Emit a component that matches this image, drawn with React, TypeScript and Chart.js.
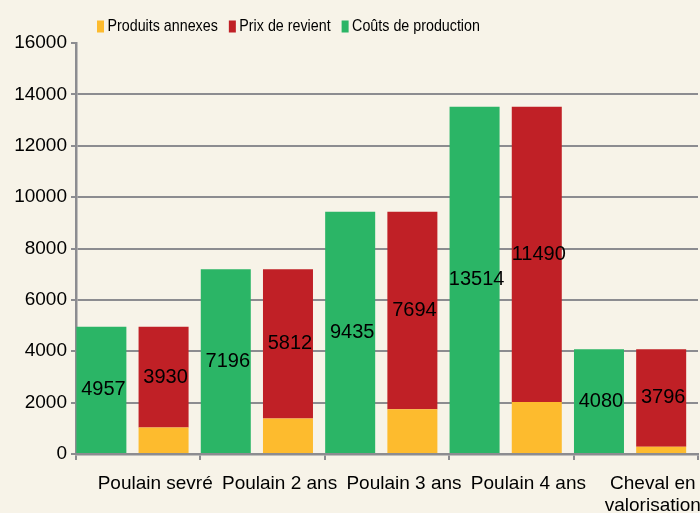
import React, { useEffect, useRef } from 'react';
import { Chart, registerables } from 'chart.js';

Chart.register(...registerables);

const categories: (string | string[])[] = [
  'Poulain sevré',
  'Poulain 2 ans',
  'Poulain 3 ans',
  'Poulain 4 ans',
  ['Cheval en', 'valorisation'],
];
const produitsAnnexes = [1027, 1384, 1741, 2024, 284];
const prixDeRevient = [3930, 5812, 7694, 11490, 3796];
const coutsProduction = [4957, 7196, 9435, 13514, 4080];
const yMin = 0;
const yMax = 16000;
const yStep = 2000;

const BG = '#f7f3e8';
const GRID = '#8c8c90';
const NUM_FONT = '"Liberation Sans", Arial, sans-serif';

const toXY = (arr: number[]) => arr.map((v, i) => ({ x: i, y: v }));

const backgroundPlugin = {
  id: 'bg',
  beforeDraw(chart: any) {
    const { ctx, width, height } = chart;
    ctx.save();
    ctx.fillStyle = BG;
    ctx.fillRect(0, 0, width, height);
    ctx.restore();
  },
};

const valueLabelPlugin = {
  id: 'valueLabels',
  afterDatasetsDraw(chart: any) {
    const { ctx } = chart;
    ctx.save();
    ctx.font = `20px ${NUM_FONT}`;
    ctx.fillStyle = '#000000';
    ctx.textAlign = 'center';
    ctx.textBaseline = 'middle';
    chart.data.datasets.forEach((ds: any, di: number) => {
      if (!ds.showValues) return;
      const meta = chart.getDatasetMeta(di);
      meta.data.forEach((el: any, i: number) => {
        const v = ds.data[i].y;
        ctx.fillText(String(v), el.x + 2, (el.y + el.base) / 2);
      });
    });
    ctx.restore();
  },
};

// legend drawn with slightly condensed text (no narrow face installed)
const LEG_SCALE = 0.84;
const legendPlugin = {
  id: 'customLegend',
  afterDraw(chart: any) {
    const { ctx } = chart;
    ctx.save();
    ctx.font = `17px ${NUM_FONT}`;
    ctx.textBaseline = 'middle';
    ctx.textAlign = 'left';
    let x = 97;
    const items = chart.data.datasets
      .slice()
      .sort((a: any, b: any) => a.legendOrder - b.legendOrder);
    items.forEach((ds: any) => {
      ctx.fillStyle = ds.backgroundColor;
      ctx.fillRect(x, 20.5, 7, 12);
      x += 10.5;
      ctx.fillStyle = '#000000';
      ctx.save();
      ctx.translate(x, 26.5);
      ctx.scale(LEG_SCALE, 1);
      ctx.fillText(ds.label, 0, 0);
      ctx.restore();
      x += ctx.measureText(ds.label).width * LEG_SCALE + 11;
    });
    ctx.restore();
  },
};

export default function App() {
  const ref = useRef<HTMLCanvasElement | null>(null);

  useEffect(() => {
    document.body.style.margin = '0';
    document.body.style.background = BG;
    if (!ref.current) return;
    const chart = new Chart(ref.current, {
      type: 'bar',
      data: {
        labels: categories as any,
        datasets: [
          {
            label: 'Produits annexes',
            data: toXY(produitsAnnexes) as any,
            backgroundColor: '#fdbb2e',
            stack: 'b',
            order: 1,
            xAxisID: 'xb',
            legendOrder: 0,
            showValues: false,
          } as any,
          {
            label: 'Prix de revient',
            data: toXY(prixDeRevient) as any,
            backgroundColor: '#c02026',
            stack: 'b',
            order: 1,
            xAxisID: 'xb',
            legendOrder: 1,
            showValues: true,
          } as any,
          {
            label: 'Coûts de production',
            data: toXY(coutsProduction) as any,
            backgroundColor: '#2bb566',
            stack: 'a',
            order: 0,
            xAxisID: 'xb',
            legendOrder: 2,
            showValues: true,
          } as any,
        ],
      },
      options: {
        responsive: false,
        animation: false,
        layout: { padding: { top: 43, right: 2, left: 0, bottom: 0 } },
        plugins: {
          legend: { display: false },
          tooltip: { enabled: false },
        },
        datasets: {
          bar: {
            categoryPercentage: 1,
            barPercentage: 0.804,
            borderWidth: 0,
          },
        },
        scales: {
          xb: {
            type: 'linear',
            axis: 'x',
            display: false,
            offset: false,
            min: -0.5 + 0.046,
            max: categories.length - 0.5 + 0.046,
            stacked: true,
            ticks: { stepSize: 1, includeBounds: false },
          },
          x: {
            type: 'category',
            position: 'bottom',
            offset: true,
            border: { display: true, color: GRID, width: 2.5 },
            grid: {
              offset: true,
              drawOnChartArea: false,
              drawTicks: true,
              tickLength: 6,
              color: GRID,
              lineWidth: 2,
            },
            ticks: {
              color: '#000000',
              font: { family: NUM_FONT, size: 19, lineHeight: 1.15 },
              padding: 13,
              labelOffset: 17,
              maxRotation: 0,
              minRotation: 0,
              autoSkip: false,
            },
            afterFit(scale: any) {
              scale.height = 59;
            },
          } as any,
          y: {
            stacked: true,
            min: yMin,
            max: yMax,
            border: { display: true, color: GRID, width: 2.5 },
            grid: {
              color: (c: any) => (c.tick && c.tick.value === yMax ? 'rgba(0,0,0,0)' : GRID),
              tickColor: GRID,
              lineWidth: 2,
              tickLength: 5,
            },
            ticks: {
              stepSize: yStep,
              color: '#000000',
              font: { family: NUM_FONT, size: 19 },
              padding: 4,
              callback: (v: any) => String(v),
            },
            afterFit(scale: any) {
              scale.width = 76;
            },
          } as any,
        },
      },
      plugins: [backgroundPlugin, valueLabelPlugin, legendPlugin],
    });
    return () => chart.destroy();
  }, []);

  return (
    <div style={{ width: 700, height: 513, background: BG }}>
      <canvas ref={ref} width={700} height={513} />
    </div>
  );
}
